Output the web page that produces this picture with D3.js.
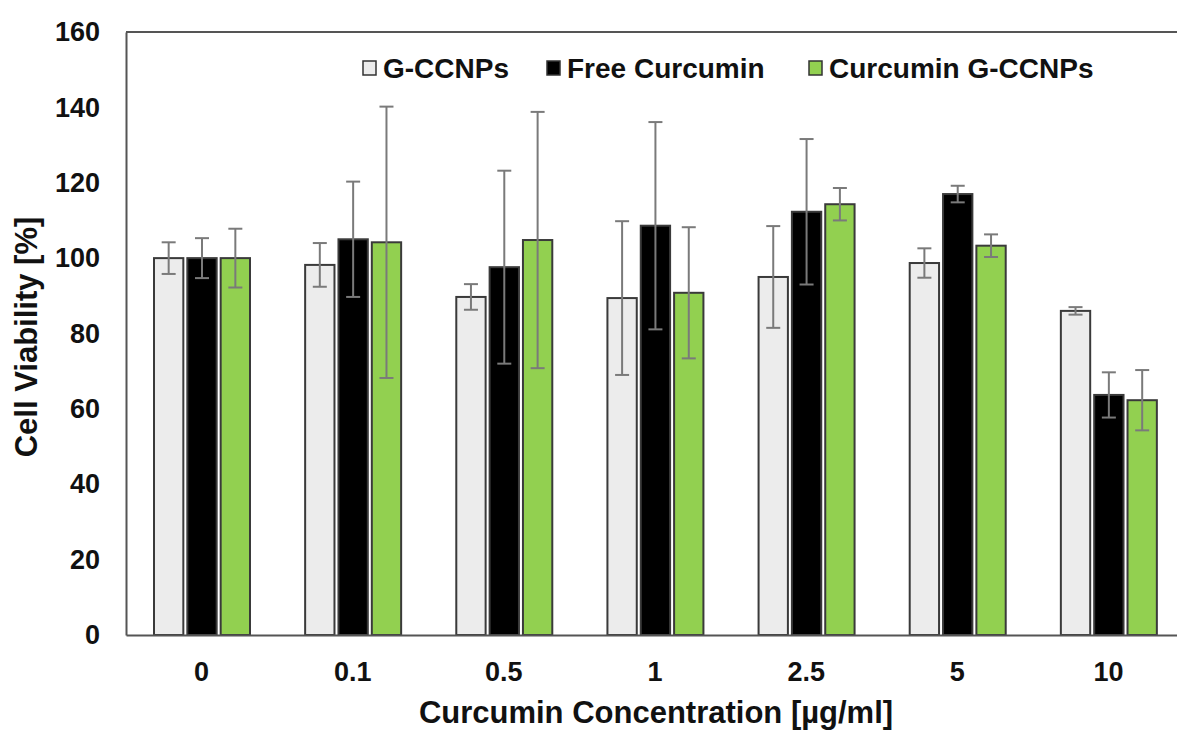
<!DOCTYPE html>
<html>
<head>
<meta charset="utf-8">
<script src="https://cdn.jsdelivr.net/npm/d3@7"></script>
<style>
  html, body { margin: 0; padding: 0; background: #fff; }
  svg { display: block; font-family: "Liberation Sans", Arial, sans-serif; font-weight: bold; }
</style>
</head>
<body>
<svg id="chart" width="1177" height="732"></svg>
<script>
const categories = ["0", "0.1", "0.5", "1", "2.5", "5", "10"];
const seriesNames = ["G-CCNPs", "Free Curcumin", "Curcumin G-CCNPs"];
const gccnpsValues = [100, 98.2, 89.7, 89.4, 95.0, 98.7, 86.0];
const gccnpsErrors = [4.2, 5.8, 3.4, 20.4, 13.5, 3.9, 1.0];
const freeValues = [100, 105.0, 97.6, 108.6, 112.3, 117.0, 63.7];
const freeErrors = [5.3, 15.3, 25.6, 27.5, 19.3, 2.2, 6.0];
const greenValues = [100, 104.2, 104.8, 90.8, 114.3, 103.3, 62.3];
const greenErrors = [7.8, 36.0, 34.0, 17.4, 4.3, 3.0, 8.0];
const yTicks = [0, 20, 40, 60, 80, 100, 120, 140, 160];
const colors = ["#ececec", "#000000", "#92d050"];

const values = [gccnpsValues, freeValues, greenValues];
const errors = [gccnpsErrors, freeErrors, greenErrors];

const svg = d3.select("#chart");
const plotLeft = 126, plotRight = 1184, plotTop = 32, plotBottom = 635;
const fontFam = "Liberation Sans, Arial, sans-serif";

const x0 = d3.scaleBand().domain(categories).range([plotLeft, plotRight]).paddingInner(0).paddingOuter(0);
const x1 = d3.scaleBand().domain(seriesNames).range([26, 126]).paddingInner(0.12).paddingOuter(0.06);
const y = d3.scaleLinear().domain([0, 160]).range([plotBottom, plotTop]);

// plot frame top line
svg.append("line").attr("x1", plotLeft).attr("x2", 1177).attr("y1", y(160)).attr("y2", y(160))
  .attr("stroke", "#555").attr("stroke-width", 2);

// y axis
const yAxis = d3.axisLeft(y).tickValues(yTicks).tickSize(0).tickPadding(26).tickFormat(d3.format("d"));
const gy = svg.append("g").attr("transform", `translate(${plotLeft},0)`).call(yAxis);
gy.select(".domain").attr("stroke", "#555").attr("stroke-width", 2);
gy.selectAll("text").attr("font-size", 27).attr("font-weight", "bold").attr("fill", "#111")
  .attr("font-family", fontFam);

// bars
const groups = svg.append("g").selectAll("g").data(categories).join("g")
  .attr("transform", d => `translate(${x0(d)},0)`);

seriesNames.forEach((s, si) => {
  groups.append("rect")
    .attr("x", x1(s))
    .attr("width", x1.bandwidth())
    .attr("y", (d, i) => y(values[si][i]))
    .attr("height", (d, i) => y(0) - y(values[si][i]))
    .attr("fill", colors[si])
    .attr("stroke", "#3a3a3a")
    .attr("stroke-width", 2);
});

// error bars
seriesNames.forEach((s, si) => {
  const cx = x1(s) + x1.bandwidth() / 2;
  groups.append("line")
    .attr("x1", cx).attr("x2", cx)
    .attr("y1", (d, i) => y(values[si][i] + errors[si][i]))
    .attr("y2", (d, i) => y(values[si][i] - errors[si][i]))
    .attr("stroke", "#7a7a7a").attr("stroke-width", 2);
  [1, -1].forEach(sign => {
    groups.append("line")
      .attr("x1", cx - 7).attr("x2", cx + 7)
      .attr("y1", (d, i) => y(values[si][i] + sign * errors[si][i]))
      .attr("y2", (d, i) => y(values[si][i] + sign * errors[si][i]))
      .attr("stroke", "#7a7a7a").attr("stroke-width", 2);
  });
});

// x axis
const xAxis = d3.axisBottom(x0).tickSize(0).tickPadding(27);
const gx = svg.append("g").attr("transform", `translate(0,${plotBottom})`).call(xAxis);
gx.select(".domain").attr("stroke", "#555").attr("stroke-width", 2);
gx.selectAll("text").attr("font-size", 27).attr("font-weight", "bold").attr("fill", "#111")
  .attr("font-family", fontFam);

// axis titles
svg.append("text").attr("x", 656).attr("y", 723).attr("text-anchor", "middle")
  .attr("font-size", 31).attr("fill", "#111").text("Curcumin Concentration [µg/ml]");
svg.append("text").attr("transform", "translate(37,337) rotate(-90)").attr("text-anchor", "middle")
  .attr("font-size", 31).attr("fill", "#111").text("Cell Viability [%]");

// legend
const legendTextX = [383, 567, 829];
const legend = svg.append("g");
seriesNames.forEach((s, si) => {
  legend.append("rect").attr("x", legendTextX[si] - 20).attr("y", 61).attr("width", 13).attr("height", 14)
    .attr("fill", colors[si]).attr("stroke", "#333").attr("stroke-width", 1.5);
  legend.append("text").attr("x", legendTextX[si]).attr("y", 78)
    .attr("font-size", 28).attr("fill", "#111").text(s);
});
</script>
</body>
</html>
